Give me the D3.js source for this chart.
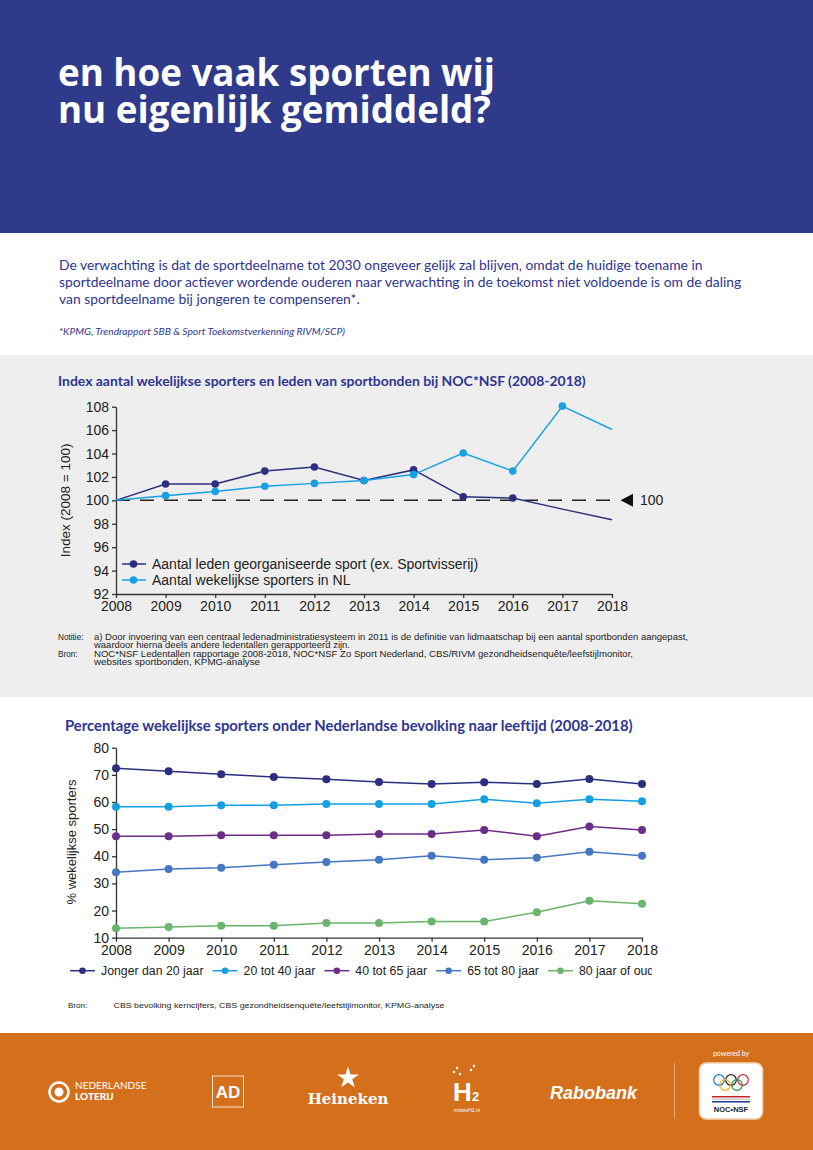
<!DOCTYPE html>
<html>
<head>
<meta charset="utf-8">
<script src="https://cdn.jsdelivr.net/npm/d3@7"></script>
<style>
  body { margin: 0; background: #fff; }
  svg { display: block; }
</style>
</head>
<body>
<div id="chart"></div>
<script>
// data
var years = [2008, 2009, 2010, 2011, 2012, 2013, 2014, 2015, 2016, 2017, 2018];

// chart 1: index (2008 = 100)
var ledenIndex    = [100, 101.4, 101.4, 102.5, 102.85, 101.7, 102.6, 100.3, 100.2, 99.25, 98.35];
var sportersIndex = [100, 100.4, 100.75, 101.2, 101.45, 101.7, 102.2, 104.05, 102.5, 108.05, 106.05];
var ledenMarkers    = [0, 1, 1, 1, 1, 1, 1, 1, 1, 0, 0];
var sportersMarkers = [0, 1, 1, 1, 1, 1, 1, 1, 1, 1, 0];
var indexTicks = [92, 94, 96, 98, 100, 102, 104, 106, 108];
var indexNames = ['Aantal leden georganiseerde sport (ex. Sportvisserij)', 'Aantal wekelijkse sporters in NL'];
var referenceValue = 100;

// chart 2: % wekelijkse sporters by age
var ageNames = ['Jonger dan 20 jaar', '20 tot 40 jaar', '40 tot 65 jaar', '65 tot 80 jaar', '80 jaar of oud'];
var jonger20 = [72.4, 71.3, 70.2, 69.2, 68.4, 67.4, 66.6, 67.3, 66.6, 68.5, 66.6];
var tot40    = [58.2, 58.2, 58.8, 58.8, 59.3, 59.3, 59.3, 61.0, 59.5, 61.0, 60.3];
var tot65    = [47.4, 47.4, 47.7, 47.7, 47.7, 48.2, 48.2, 49.7, 47.4, 51.0, 49.7];
var tot80    = [34.1, 35.3, 35.8, 36.9, 37.9, 38.7, 40.2, 38.7, 39.5, 41.7, 40.2];
var ouder80  = [13.5, 13.9, 14.4, 14.4, 15.4, 15.4, 16.0, 16.0, 19.4, 23.6, 22.5];
var pctTicks = [10, 20, 30, 40, 50, 60, 70, 80];

// colours
var navy = '#2f3a8a',
    textNavy = '#2e3592',
    dark = '#2b2f7e',
    light = '#17a1e1',
    orange = '#d4701c',
    grey = '#eeeeee';
var ageColors = [dark, '#12a0e0', '#6b2d87', '#4677c2', '#6ab46c'];

var W = 813, H = 1150;
var sans = "Lato, 'Noto Sans', sans-serif";
var titleFont = "'Open Sans', 'Noto Sans', sans-serif";
var chartFont = "'Liberation Sans', Arial, sans-serif";

var svg = d3.select('#chart').append('svg')
    .attr('width', W)
    .attr('height', H);

// grow/shrink font until text fits the target width
function fit(sel, w) {
    var fs = parseFloat(sel.attr('font-size'));
    var len = sel.node().getComputedTextLength();
    sel.attr('font-size', (fs * w / len).toFixed(2));
    return sel;
}
// keep font size, squeeze glyphs to the target width
function squeeze(sel, w) {
    sel.attr('textLength', w).attr('lengthAdjust', 'spacingAndGlyphs');
    return sel;
}

// ---------- backgrounds ----------
svg.append('rect').attr('width', W).attr('height', 233).attr('fill', navy);
svg.append('rect').attr('y', 355).attr('width', W).attr('height', 342).attr('fill', grey);
svg.append('rect').attr('y', 1033).attr('width', W).attr('height', H - 1033).attr('fill', orange);

// ---------- header ----------
var title1 = svg.append('text').attr('x', 58).attr('y', 85.5)
    .attr('font-family', titleFont).attr('font-weight', 700).attr('font-size', 31)
    .attr('fill', '#fff').text('en hoe vaak sporten wij');
fit(title1, 437);
var title2 = svg.append('text').attr('x', 58).attr('y', 122.5)
    .attr('font-family', titleFont).attr('font-weight', 700).attr('font-size', title1.attr('font-size'))
    .attr('fill', '#fff').text('nu eigenlijk gemiddeld?');

// ---------- intro paragraph ----------
var para = [
    ['De verwachting is dat de sportdeelname tot 2030 ongeveer gelijk zal blijven, omdat de huidige toename in', 644],
    ['sportdeelname door actiever wordende ouderen naar verwachting in de toekomst niet voldoende is om de daling', 683],
    ['van sportdeelname bij jongeren te compenseren*.', 301]
];
para.forEach(function(p, i) {
    var t = svg.append('text').attr('x', 59).attr('y', 270 + i * 17)
        .attr('font-family', sans).attr('font-size', 14).attr('fill', textNavy).text(p[0]);
    fit(t, p[1]);
});
var note0 = svg.append('text').attr('x', 59).attr('y', 335)
    .attr('font-family', sans).attr('font-style', 'italic').attr('font-size', 9)
    .attr('fill', textNavy).text('*KPMG, Trendrapport SBB & Sport Toekomstverkenning RIVM/SCP)');
fit(note0, 286);

// ---------- chart 1 ----------
var c1title = svg.append('text').attr('x', 58).attr('y', 386)
    .attr('font-family', sans).attr('font-weight', 700).attr('font-size', 13)
    .attr('fill', textNavy).text('Index aantal wekelijkse sporters en leden van sportbonden bij NOC*NSF (2008-2018)');
fit(c1title, 528);

var x1 = d3.scaleLinear().domain([2008, 2018]).range([116, 612]);
var y1 = d3.scaleLinear().domain([92, 108]).range([594, 406.7]);

var g1 = svg.append('g');

g1.append('g')
    .attr('transform', 'translate(116,0)')
    .call(d3.axisLeft(y1).tickValues(indexTicks).tickSize(4).tickSizeOuter(0));
g1.append('g')
    .attr('transform', 'translate(0,594)')
    .call(d3.axisBottom(x1).tickValues(years).tickFormat(d3.format('d')).tickSize(4).tickSizeOuter(0));
g1.selectAll('.domain, .tick line').attr('stroke', '#333').attr('stroke-width', 1.3);
g1.selectAll('.tick text').attr('font-family', chartFont).attr('font-size', 14).attr('fill', '#222');

svg.append('text')
    .attr('transform', 'translate(70,' + y1(100) + ') rotate(-90)')
    .attr('text-anchor', 'middle')
    .attr('font-family', chartFont).attr('font-size', 13.5).attr('fill', '#222')
    .text('Index (2008 = 100)');

// reference line at 100
g1.append('line')
    .attr('x1', x1(2008)).attr('x2', x1(2018))
    .attr('y1', y1(referenceValue)).attr('y2', y1(referenceValue))
    .attr('stroke', '#222').attr('stroke-width', 1.5).attr('stroke-dasharray', '14,10');
var ry = y1(referenceValue);
g1.append('path')
    .attr('d', 'M' + (x1(2018) + 8.5) + ',' + ry + 'L' + (x1(2018) + 21) + ',' + (ry - 6.5) + 'L' + (x1(2018) + 21) + ',' + (ry + 6.5) + 'Z')
    .attr('fill', '#111');
g1.append('text').attr('x', x1(2018) + 28).attr('y', ry + 5)
    .attr('font-family', chartFont).attr('font-size', 14).attr('fill', '#222')
    .text(referenceValue);

var line1 = d3.line()
    .x(function(d, i) { return x1(years[i]); })
    .y(function(d) { return y1(d); });

var series1 = [
    { values: ledenIndex, markers: ledenMarkers, color: dark },
    { values: sportersIndex, markers: sportersMarkers, color: light }
];

series1.forEach(function(s) {
    g1.append('path')
        .attr('d', line1(s.values))
        .attr('fill', 'none')
        .attr('stroke', s.color)
        .attr('stroke-width', 1.5);
    g1.selectAll(null)
        .data(s.values.map(function(v, i) { return { v: v, i: i }; })
            .filter(function(d) { return s.markers[d.i]; }))
        .enter().append('circle')
        .attr('cx', function(d) { return x1(years[d.i]); })
        .attr('cy', function(d) { return y1(d.v); })
        .attr('r', 3.8)
        .attr('fill', s.color);
});

// legend chart 1
series1.forEach(function(s, i) {
    var ly = 564 + i * 16;
    g1.append('line').attr('x1', 122).attr('x2', 146).attr('y1', ly).attr('y2', ly)
        .attr('stroke', s.color).attr('stroke-width', 1.5);
    g1.append('circle').attr('cx', 133.5).attr('cy', ly).attr('r', 3.8).attr('fill', s.color);
    g1.append('text').attr('x', 152).attr('y', ly + 5)
        .attr('font-family', chartFont).attr('font-size', 14).attr('fill', '#222')
        .text(indexNames[i]);
});

// notes
var notes = [
    ['Notitie:', 'a) Door invoering van een centraal ledenadministratiesysteem in 2011 is de definitie van lidmaatschap bij een aantal sportbonden aangepast,', 594],
    ['', 'waardoor hierna deels andere ledentallen gerapporteerd zijn.', 256],
    ['Bron:', 'NOC*NSF Ledentallen rapportage 2008-2018, NOC*NSF Zo Sport Nederland, CBS/RIVM gezondheidsenquête/leefstijlmonitor,', 539],
    ['', 'websites sportbonden, KPMG-analyse', 166]
];
notes.forEach(function(n, i) {
    var ny = 639.5 + i * 8.6;
    if (n[0]) {
        svg.append('text').attr('x', 58).attr('y', ny)
            .attr('font-family', chartFont).attr('font-size', 8.2).attr('fill', '#222').text(n[0]);
    }
    var t = svg.append('text').attr('x', 94).attr('y', ny)
        .attr('font-family', chartFont).attr('font-size', 8.2).attr('fill', '#222').text(n[1]);
    squeeze(t, n[2]);
});

// ---------- chart 2 ----------
var c2title = svg.append('text').attr('x', 65).attr('y', 731)
    .attr('font-family', sans).attr('font-weight', 700).attr('font-size', 14)
    .attr('fill', textNavy).text('Percentage wekelijkse sporters onder Nederlandse bevolking naar leeftijd (2008-2018)');
fit(c2title, 568);

var x2 = d3.scaleLinear().domain([2008, 2018]).range([116, 642]);
var y2 = d3.scaleLinear().domain([10, 80]).range([937.7, 747.7]);

var g2 = svg.append('g');
g2.append('g')
    .attr('transform', 'translate(116,0)')
    .call(d3.axisLeft(y2).tickValues(pctTicks).tickSize(4).tickSizeOuter(0));
g2.append('g')
    .attr('transform', 'translate(0,937.7)')
    .call(d3.axisBottom(x2).tickValues(years).tickFormat(d3.format('d')).tickSize(4).tickSizeOuter(0));
g2.selectAll('.domain, .tick line').attr('stroke', '#333').attr('stroke-width', 1.3);
g2.selectAll('.tick text').attr('font-family', chartFont).attr('font-size', 14).attr('fill', '#222');

svg.append('text')
    .attr('transform', 'translate(76,842) rotate(-90)')
    .attr('text-anchor', 'middle')
    .attr('font-family', chartFont).attr('font-size', 13).attr('fill', '#222')
    .text('% wekelijkse sporters');

var line2 = d3.line()
    .x(function(d, i) { return x2(years[i]); })
    .y(function(d) { return y2(d); });

var series2 = [jonger20, tot40, tot65, tot80, ouder80];
series2.forEach(function(vals, k) {
    g2.append('path')
        .attr('d', line2(vals))
        .attr('fill', 'none')
        .attr('stroke', ageColors[k])
        .attr('stroke-width', 1.5);
    g2.selectAll(null)
        .data(vals)
        .enter().append('circle')
        .attr('cx', function(d, i) { return x2(years[i]); })
        .attr('cy', function(d) { return y2(d); })
        .attr('r', 4)
        .attr('fill', ageColors[k]);
});

// legend chart 2 (clipped on the right like the original)
svg.append('clipPath').attr('id', 'legclip')
    .append('rect').attr('x', 0).attr('y', 950).attr('width', 652).attr('height', 40);
var leg2 = svg.append('g').attr('clip-path', 'url(#legclip)');
var lx = 70, ly2 = 970.7;
ageNames.forEach(function(name, k) {
    leg2.append('line').attr('x1', lx).attr('x2', lx + 25).attr('y1', ly2).attr('y2', ly2)
        .attr('stroke', ageColors[k]).attr('stroke-width', 1.5);
    leg2.append('circle').attr('cx', lx + 12.5).attr('cy', ly2).attr('r', 3.3).attr('fill', ageColors[k]);
    var t = leg2.append('text').attr('x', lx + 31).attr('y', ly2 + 4.5)
        .attr('font-family', chartFont).attr('font-size', 12.3).attr('fill', '#222')
        .text(name);
    lx = lx + 31 + t.node().getComputedTextLength() + 9;
});

svg.append('text').attr('x', 68).attr('y', 1008)
    .attr('font-family', chartFont).attr('font-size', 8).attr('fill', '#222').text('Bron:');
var bron2 = svg.append('text').attr('x', 113.5).attr('y', 1008)
    .attr('font-family', chartFont).attr('font-size', 8).attr('fill', '#222')
    .text('CBS bevolking kerncijfers, CBS gezondheidsenquête/leefstijlmonitor, KPMG-analyse');
squeeze(bron2, 331);

// ---------- footer logos (text approximations) ----------
var foot = svg.append('g').attr('fill', '#fff');

// Nederlandse Loterij
foot.append('circle').attr('cx', 59).attr('cy', 1092).attr('r', 9.5)
    .attr('fill', 'none').attr('stroke', '#fff').attr('stroke-width', 2.5);
foot.append('circle').attr('cx', 59).attr('cy', 1092).attr('r', 4.5);
foot.append('text').attr('x', 75).attr('y', 1089).attr('font-family', sans)
    .attr('font-size', 10).attr('font-weight', 400).text('NEDERLANDSE');
foot.append('text').attr('x', 75).attr('y', 1100).attr('font-family', sans)
    .attr('font-size', 10).attr('font-weight', 900).text('LOTERIJ');

// AD
foot.append('rect').attr('x', 212.5).attr('y', 1076).attr('width', 31).attr('height', 31)
    .attr('fill', 'none').attr('stroke', '#fff').attr('stroke-width', 0.8);
foot.append('text').attr('x', 228).attr('y', 1098).attr('text-anchor', 'middle')
    .attr('font-family', chartFont).attr('font-weight', 700).attr('font-size', 17).text('AD');

// Heineken
var star = d3.symbol().type(d3.symbolStar).size(150);
foot.append('path').attr('d', star()).attr('transform', 'translate(348,1078)');
foot.append('text').attr('x', 348).attr('y', 1104).attr('text-anchor', 'middle')
    .attr('font-family', "'DejaVu Serif', serif").attr('font-weight', 700).attr('font-size', 15).text('Heineken');

// H2
foot.append('text').attr('x', 453).attr('y', 1101)
    .attr('font-family', chartFont).attr('font-weight', 700).attr('font-size', 26).text('H');
foot.append('text').attr('x', 472).attr('y', 1101)
    .attr('font-family', chartFont).attr('font-weight', 700).attr('font-size', 13).text('2');
foot.append('text').attr('x', 467).attr('y', 1112).attr('text-anchor', 'middle')
    .attr('font-family', chartFont).attr('font-size', 5).text('missieH2.nl');
[[454, 1072], [457, 1068], [460, 1074], [471, 1070], [474, 1066]].forEach(function(p) {
    foot.append('circle').attr('cx', p[0]).attr('cy', p[1]).attr('r', 1.2);
});

// Rabobank
foot.append('text').attr('x', 550).attr('y', 1099)
    .attr('font-family', chartFont).attr('font-weight', 700).attr('font-style', 'italic')
    .attr('font-size', 18).text('Rabobank');

// divider
foot.append('line').attr('x1', 674.5).attr('x2', 674.5).attr('y1', 1063).attr('y2', 1119)
    .attr('stroke', '#e9a56e').attr('stroke-width', 1);

// powered by NOC*NSF
foot.append('text').attr('x', 731).attr('y', 1056).attr('text-anchor', 'middle')
    .attr('font-family', sans).attr('font-size', 7).text('powered by');
foot.append('rect').attr('x', 699.5).attr('y', 1063).attr('width', 63).attr('height', 56).attr('rx', 7)
    .attr('fill', '#fff').attr('stroke', '#f3d3b5').attr('stroke-width', 1.5);
var rings = [[719, 1080, '#1a75c9'], [731, 1080, '#222'], [743, 1080, '#d3242b'], [725, 1085, '#f2b51f'], [737, 1085, '#2a9a4a']];
rings.forEach(function(r) {
    foot.append('circle').attr('cx', r[0]).attr('cy', r[1]).attr('r', 5.3)
        .attr('fill', 'none').attr('stroke', r[2]).attr('stroke-width', 1.2);
});
foot.append('rect').attr('x', 712).attr('y', 1096).attr('width', 38).attr('height', 1.5).attr('fill', '#c0282d');
foot.append('rect').attr('x', 712).attr('y', 1098.5).attr('width', 38).attr('height', 1.5).attr('fill', '#ccc');
foot.append('rect').attr('x', 712).attr('y', 1101).attr('width', 38).attr('height', 1.5).attr('fill', '#1e3a8a');
foot.append('text').attr('x', 731).attr('y', 1112).attr('text-anchor', 'middle')
    .attr('font-family', chartFont).attr('font-weight', 700).attr('font-size', 7.5)
    .attr('fill', '#222').text('NOC•NSF');
</script>
</body>
</html>
